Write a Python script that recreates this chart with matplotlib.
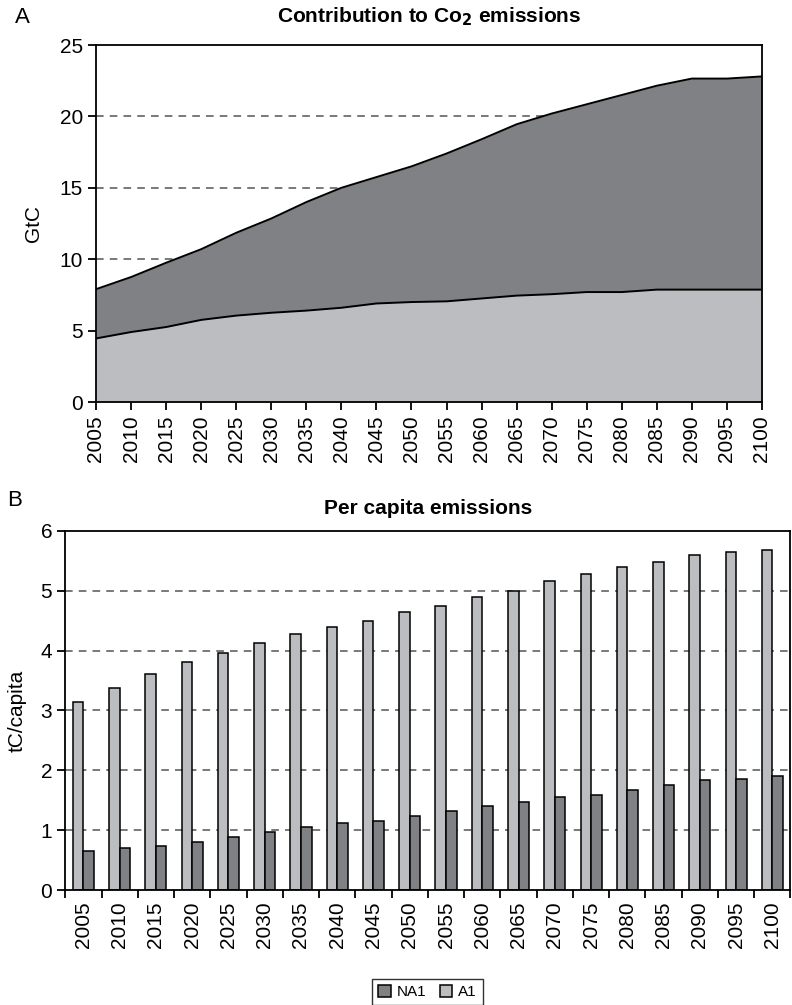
import matplotlib
matplotlib.use("Agg")
import matplotlib.pyplot as plt
import numpy as np

plt.rcParams["font.family"] = ["Liberation Sans", "DejaVu Sans"]

# Years shared by both panels
years = [2005, 2010, 2015, 2020, 2025, 2030, 2035, 2040, 2045, 2050,
         2055, 2060, 2065, 2070, 2075, 2080, 2085, 2090, 2095, 2100]

# Panel A: contribution to CO2 emissions (GtC), lower band and total
a1_gtc = [4.45, 4.9, 5.25, 5.75, 6.05, 6.25, 6.4, 6.6, 6.9, 7.0,
          7.05, 7.25, 7.45, 7.55, 7.7, 7.7, 7.87, 7.87, 7.87, 7.87]
total_gtc = [7.9, 8.75, 9.75, 10.7, 11.85, 12.85, 14.0, 15.0, 15.75, 16.5,
             17.4, 18.4, 19.45, 20.2, 20.85, 21.5, 22.15, 22.65, 22.65, 22.8]

# Panel B: per capita emissions (tC/capita)
a1_capita = [3.14, 3.38, 3.61, 3.81, 3.96, 4.12, 4.27, 4.39, 4.5, 4.65,
             4.74, 4.89, 5.0, 5.16, 5.28, 5.4, 5.47, 5.6, 5.64, 5.68]
na1_capita = [0.66, 0.7, 0.73, 0.81, 0.89, 0.97, 1.05, 1.12, 1.16, 1.24,
              1.32, 1.4, 1.47, 1.55, 1.59, 1.67, 1.75, 1.83, 1.86, 1.9]

LIGHT = "#bcbdc0"
DARK = "#808185"
GRID = "#555555"

fig = plt.figure(figsize=(7.92, 10.05), dpi=100)

# ---- Panel A: stacked areas
ax1 = fig.add_axes([0.1212, 0.6, 0.8409, 0.3552])
x = np.arange(len(years))
ax1.fill_between(x, 0, a1_gtc, color=LIGHT, zorder=2, linewidth=0)
ax1.fill_between(x, a1_gtc, total_gtc, color=DARK, zorder=2, linewidth=0)
ax1.plot(x, a1_gtc, color="black", linewidth=1.4, zorder=3)
ax1.plot(x, total_gtc, color="black", linewidth=1.4, zorder=3)
ax1.set_xlim(0, len(years) - 1)
ax1.set_ylim(0, 25)
ax1.set_yticks([0, 5, 10, 15, 20, 25])
ax1.set_xticks(x)
ax1.set_xticklabels([str(y) for y in years], rotation=90)
for v in [5, 10, 15, 20]:
    ax1.axhline(v, color=GRID, linestyle=(0, (5, 4)), linewidth=1.1, zorder=1)
ax1.set_ylabel("GtC", fontsize=15, labelpad=12)
ax1.set_title("Contribution to Co$_\\mathbf{2}$ emissions", fontsize=15,
              fontweight="bold", pad=16)
fig.text(0.019, 0.977, "A", fontsize=16)

# ---- Panel B: grouped bars
ax2 = fig.add_axes([0.0825, 0.1144, 0.9155, 0.3575])
w = 0.29
ax2.bar(x - w / 2, a1_capita, width=w, color=LIGHT, edgecolor="black",
        linewidth=1.1, zorder=2, label="A1")
ax2.bar(x + w / 2, na1_capita, width=w, color=DARK, edgecolor="black",
        linewidth=1.1, zorder=2, label="NA1")
ax2.set_xlim(-0.5, len(years) - 0.5)
ax2.set_ylim(0, 6)
ax2.set_yticks(range(7))
ax2.set_xticks(np.arange(len(years) + 1) - 0.5, minor=False)
ax2.set_xticklabels([])
ax2.set_xticks(x, minor=True)
ax2.set_xticklabels([str(y) for y in years], minor=True, rotation=90)
ax2.tick_params(axis="x", which="minor", length=0, pad=8)
for v in [1, 2, 3, 4, 5]:
    ax2.axhline(v, color=GRID, linestyle=(0, (5, 4)), linewidth=1.1, zorder=1)
ax2.set_ylabel("tC/capita", fontsize=15, labelpad=10)
ax2.set_title("Per capita emissions", fontsize=15, fontweight="bold", pad=12)
fig.text(0.009, 0.497, "B", fontsize=16)

for ax in (ax1, ax2):
    for s in ax.spines.values():
        s.set_linewidth(1.3)
    ax.tick_params(axis="both", which="major", labelsize=15, length=6,
                   width=1.3, direction="out")
    ax.tick_params(axis="x", which="minor", labelsize=15)

# legend with NA1 first
h, l = ax2.get_legend_handles_labels()
fig.legend([h[1], h[0]], [l[1], l[0]], loc="lower center", ncol=2,
           bbox_to_anchor=(0.54, -0.008), frameon=True, fancybox=False,
           edgecolor="black", fontsize=11, handlelength=0.8, handleheight=0.8,
           handletextpad=0.4, columnspacing=0.9, borderpad=0.4)

fig.savefig("out.png", dpi=100)
